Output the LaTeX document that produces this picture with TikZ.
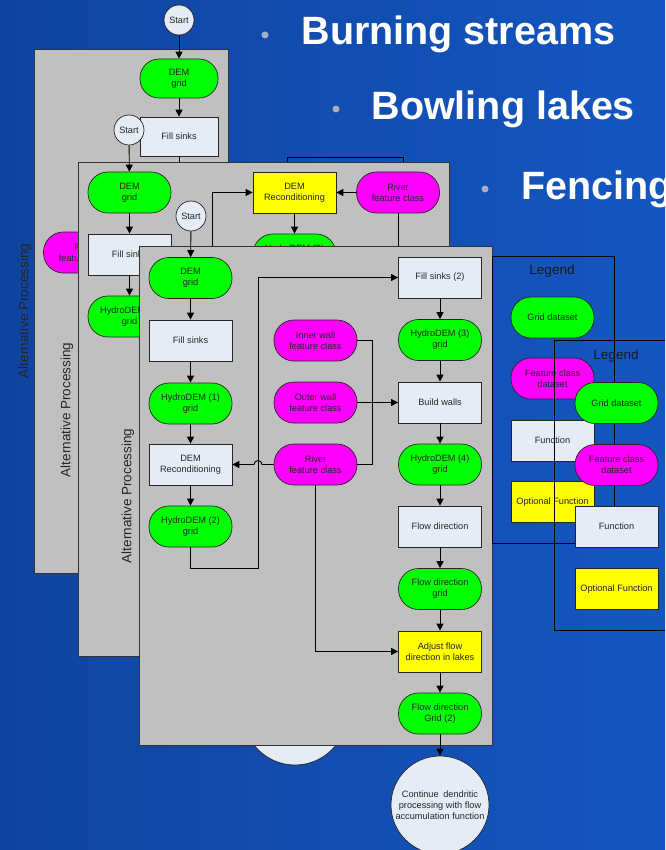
\documentclass[tikz,border=0pt]{standalone}
\usepackage{fontspec}
\setmainfont{Liberation Sans}
\usetikzlibrary{arrows.meta}
\definecolor{bgL}{RGB}{16,68,160}
\definecolor{bgR}{RGB}{20,86,192}
\definecolor{panelgray}{RGB}{192,192,192}
\definecolor{fn}{RGB}{230,236,246}
\definecolor{gr}{RGB}{0,255,0}
\definecolor{mg}{RGB}{255,0,255}
\definecolor{yl}{RGB}{255,255,0}
\definecolor{bul}{RGB}{168,174,188}
\begin{document}
\begin{tikzpicture}[x=1pt,y=-1pt,
 base/.style={draw=black!85,line width=0.7pt,minimum width=83pt,minimum height=41pt,inner sep=0pt,align=center,font=\fontsize{9.2}{11}\selectfont,text=black!85},
 gridnode/.style={base,fill=gr,rounded corners=20pt},
 featnode/.style={base,fill=mg,rounded corners=20pt},
 fnnode/.style={base,fill=fn},
 optnode/.style={base,fill=yl},
 small/.style={minimum width=78pt,minimum height=39pt},
 startnode/.style={circle,draw=black!85,fill=fn,line width=0.7pt,minimum size=30pt,inner sep=0pt,font=\fontsize{9.2}{11}\selectfont,text=black!85},
 endnode/.style={circle,draw=black!85,fill=fn,line width=0.7pt,minimum size=98pt,inner sep=0pt,align=center,font=\fontsize{9.2}{11}\selectfont,text=black!85},
 panel/.style={fill=panelgray,draw=black!80,line width=0.8pt},
 conn/.style={draw=black,line width=0.9pt},
 arr/.style={conn,-{Triangle[length=7pt,width=7pt]}},
 altlabel/.style={rotate=90,font=\fontsize{13.5}{14}\selectfont,text=black!85},
 legframe/.style={draw=black,line width=0.9pt},
 legtitle/.style={font=\fontsize{13.5}{14}\selectfont,text=black!90},
 title/.style={anchor=base west,text=white,font=\fontsize{39.5}{40}\selectfont\bfseries},
 bullet/.style={circle,fill=bul,inner sep=0pt,minimum size=7pt},
]
\path[use as bounding box] (0,0) rectangle (665,850);
\clip (0,0) rectangle (665,850);
\fill[left color=bgL,right color=bgR] (0,0) rectangle (665,850);

% ---------- legend frame behind panel 2
\draw[legframe] (287,157) rectangle (403,240);

% ---------- panel 1
\node[startnode] (s1) at (179,20) {Start};
\draw[panel] (34,49) rectangle (228,573);
\node[altlabel] at (25,311) {Alternative Processing};
\node[gridnode,small,rounded corners=19pt] (a1dem) at (179,78.5) {DEM\\grid};
\node[fnnode,small] (a1fill) at (179,136.5) {Fill sinks};
\node[featnode] (a1river) at (85,252.5) {River\\feature class};
\coordinate (a1c) at (179,200);
\draw[arr] (s1) -- (a1dem);
\draw[arr] (a1dem) -- (a1fill);
\draw[conn] (a1fill.south) -- (a1c);

% ---------- panel 2
\node[startnode] (s2) at (129,130) {Start};
\draw[panel] (78,162) rectangle (449,656);
\node[altlabel] at (67,410) {Alternative Processing};
\node[gridnode] (a2dem) at (129.5,192.5) {DEM\\grid};
\node[fnnode] (a2fill) at (129.5,254.5) {Fill sinks};
\node[gridnode] (a2h1) at (129.5,316.5) {HydroDEM (1)\\grid};
\node[optnode] (a2recon) at (294.5,192.5) {DEM\\Reconditioning};
\node[featnode] (a2river) at (398,192.5) {River\\feature class};
\node[gridnode] (a2h2) at (294.5,254.5) {HydroDEM (2)\\grid};
\coordinate (a2c) at (398,300);
\draw[arr] (s2) -- (a2dem);
\draw[arr] (a2dem) -- (a2fill);
\draw[arr] (a2fill) -- (a2h1);
\draw[arr] (a2river) -- (a2recon);
\draw[arr] (a2recon) -- (a2h2);
\draw[arr] (a2h1.east) -- (212,316.5) |- (a2recon.west);
\draw[conn] (a2river.south) -- (a2c);
\node[startnode] (s3) at (191,216) {Start};
\node[endnode,minimum size=104pt] (a2end) at (295,713) {};

% ---------- panel 3
\draw[panel] (139,246) rectangle (492,745);
\node[altlabel] at (128,496) {Alternative Processing};
\node[gridnode] (p3dem) at (190.5,278) {DEM\\grid};
\node[fnnode] (p3fill) at (190.5,340.5) {Fill sinks};
\node[gridnode] (p3h1) at (190.5,403.5) {HydroDEM (1)\\grid};
\node[fnnode] (p3recon) at (190.5,464.5) {DEM\\Reconditioning};
\node[gridnode] (p3h2) at (190.5,526.5) {HydroDEM (2)\\grid};
\node[featnode] (p3inner) at (315.5,340.5) {Inner wall\\feature class};
\node[featnode] (p3outer) at (315.5,402.5) {Outer wall\\feature class};
\node[featnode] (p3river) at (315.5,464.5) {River\\feature class};
\node[fnnode] (p3fill2) at (440,277.5) {Fill sinks (2)};
\node[gridnode] (p3h3) at (440,340) {HydroDEM (3)\\grid};
\node[fnnode] (p3build) at (440,402.5) {Build walls};
\node[gridnode] (p3h4) at (440,464.5) {HydroDEM (4)\\grid};
\node[fnnode] (p3flow) at (440,526.5) {Flow direction};
\node[gridnode] (p3fdg) at (440,589) {Flow direction\\grid};
\node[optnode] (p3adjust) at (440,651.5) {Adjust flow\\direction in lakes};
\node[gridnode] (p3fdg2) at (440,713.5) {Flow direction\\Grid (2)};
\node[endnode] (p3end) at (440,805) {Continue\enspace dendritic\\processing with flow\\accumulation function};
\draw[arr] (s3) -- (p3dem);
\draw[arr] (p3dem) -- (p3fill);
\draw[arr] (p3fill) -- (p3h1);
\draw[arr] (p3h1) -- (p3recon);
\draw[arr] (p3recon) -- (p3h2);
\draw[arr] (p3h2.south) |- (258,568) |- (p3fill2.west);
\draw[arr] (p3fill2) -- (p3h3);
\draw[arr] (p3h3) -- (p3build);
\draw[arr] (p3build) -- (p3h4);
\draw[arr] (p3h4) -- (p3flow);
\draw[arr] (p3flow) -- (p3fdg);
\draw[arr] (p3fdg) -- (p3adjust);
\draw[arr] (p3adjust) -- (p3fdg2);
\draw[arr] (p3fdg2) -- (p3end);
\draw[conn] (p3inner.east) -| (372,464.5) -- (p3river.east);
\draw[arr] (p3outer) -- (p3build);
\draw[arr] (p3river.west) -- (262,464.5) arc[start angle=0,end angle=180,radius=4pt] -- (p3recon.east);
\draw[arr] (p3river.south) |- (p3adjust.west);

% ---------- legends
\node[legtitle] at (552,271) {Legend};
\node[gridnode] (l1g) at (552.5,317.5) {Grid dataset};
\node[featnode] (l1f) at (552.5,378.5) {Feature class\\dataset};
\node[fnnode] (l1fn) at (552.5,440.5) {Function};
\node[optnode] (l1o) at (552.5,502) {Optional Function};
\draw[legframe] (554,340) rectangle (680,630);
\draw[legframe] (492,256) rectangle (614,543);
\node[legtitle] at (616,356) {Legend};
\node[gridnode] (l2g) at (616.5,403) {Grid dataset};
\node[featnode] (l2f) at (616.5,465) {Feature class\\dataset};
\node[fnnode] (l2fn) at (616.5,526.5) {Function};
\node[optnode] (l2o) at (616.5,589) {Optional Function};

% ---------- titles
\node[bullet] (b1) at (265,35) {};
\node[bullet] (b2) at (336,109) {};
\node[bullet] (b3) at (485,189) {};
\node[title] (t1) at (298,45) {Burning streams};
\node[title] (t2) at (368,120) {Bowling lakes};
\node[title] (t3) at (518,200) {Fencing};
\end{tikzpicture}
\end{document}
